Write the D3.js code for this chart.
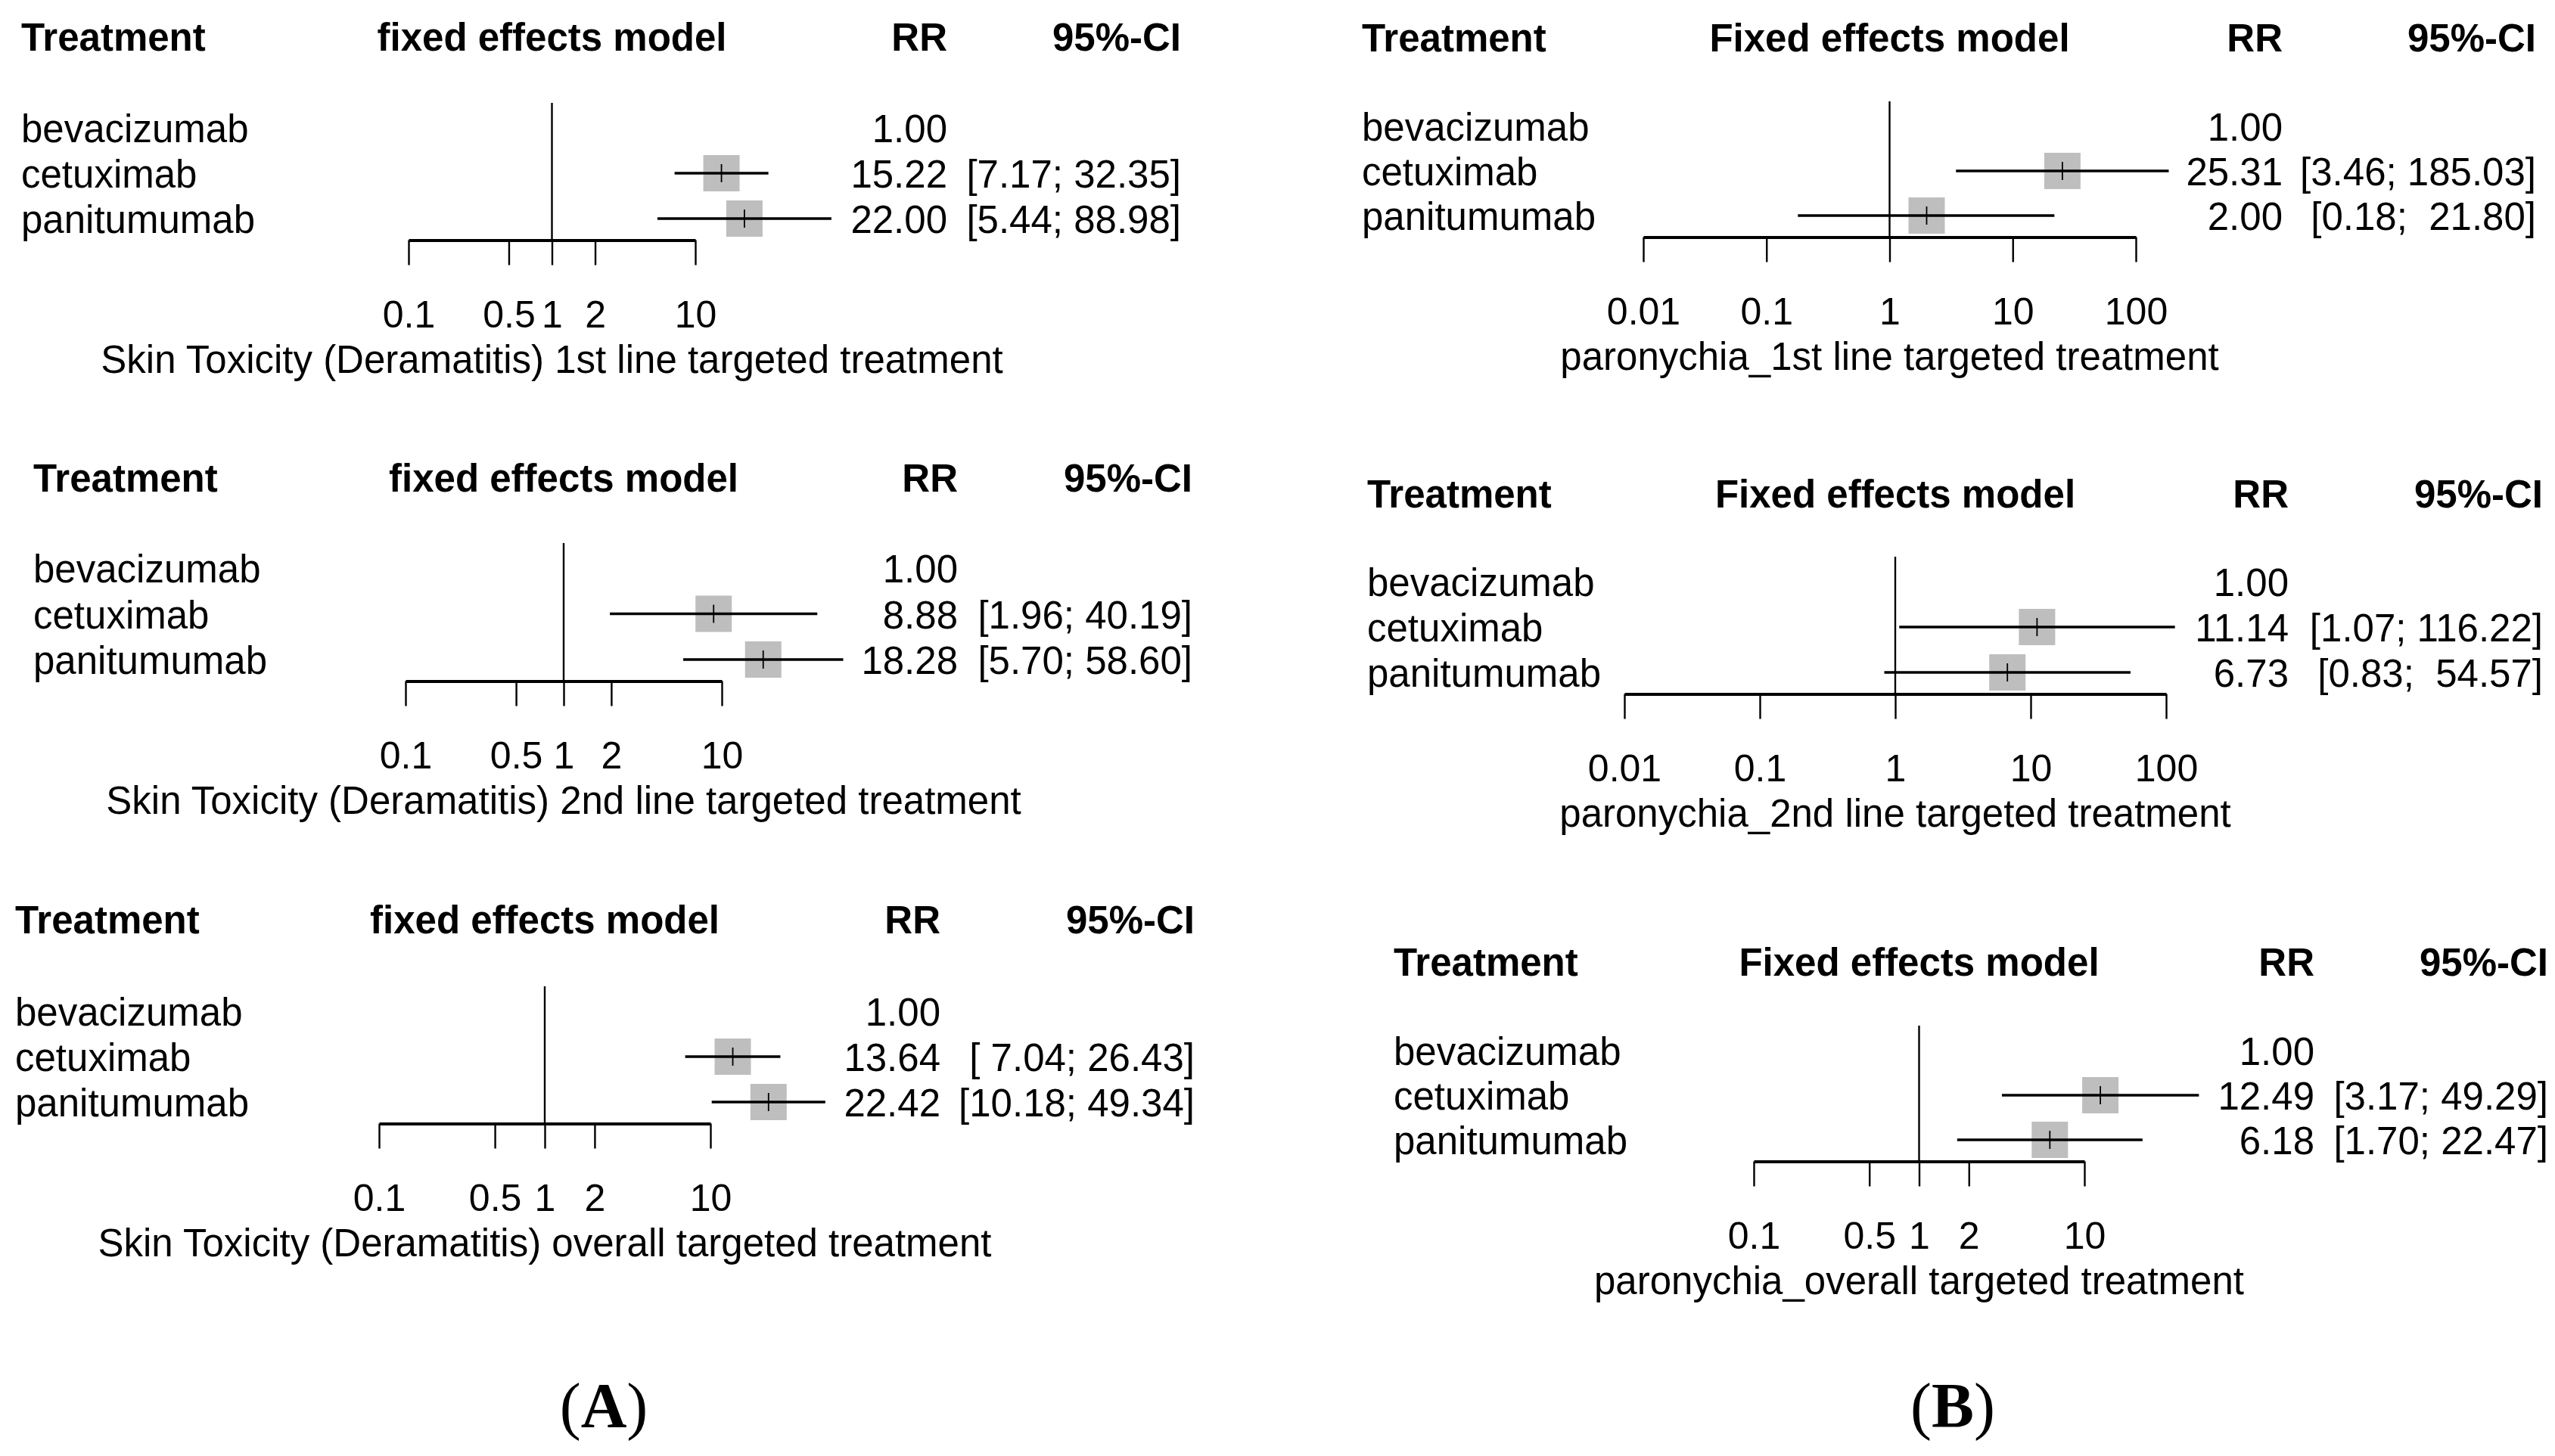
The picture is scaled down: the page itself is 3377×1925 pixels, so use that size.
<!DOCTYPE html>
<html>
<head>
<meta charset="utf-8">
<script src="https://cdn.jsdelivr.net/npm/d3@7"></script>
<style>
  body { margin: 0; background: #fff; }
  text { font-family: "Liberation Sans", Arial, sans-serif; fill: #000; }
  .pre { white-space: pre; }
</style>
</head>
<body>
<div id="chart"></div>
<script>
// ---------- données ----------
const treatments = ["bevacizumab", "cetuximab", "panitumumab"];

const xlabels = [
  "Skin Toxicity (Deramatitis) 1st line targeted treatment",
  "Skin Toxicity (Deramatitis) 2nd line targeted treatment",
  "Skin Toxicity (Deramatitis) overall targeted treatment",
  "paronychia_1st line targeted treatment",
  "paronychia_2nd line targeted treatment",
  "paronychia_overall targeted treatment"
];
const modelHeaders = [
  "fixed effects model", "fixed effects model", "fixed effects model",
  "Fixed effects model", "Fixed effects model", "Fixed effects model"
];

// RR + IC 95% (bevacizumab = référence, pas d'IC)
const rrSkin1 = [1.00, 15.22, 22.00];
const loSkin1 = [null, 7.17, 5.44];
const upSkin1 = [null, 32.35, 88.98];

const rrSkin2 = [1.00, 8.88, 18.28];
const loSkin2 = [null, 1.96, 5.70];
const upSkin2 = [null, 40.19, 58.60];

const rrSkinAll = [1.00, 13.64, 22.42];
const loSkinAll = [null, 7.04, 10.18];
const upSkinAll = [null, 26.43, 49.34];

const rrParo1 = [1.00, 25.31, 2.00];
const loParo1 = [null, 3.46, 0.18];
const upParo1 = [null, 185.03, 21.80];

const rrParo2 = [1.00, 11.14, 6.73];
const loParo2 = [null, 1.07, 0.83];
const upParo2 = [null, 116.22, 54.57];

const rrParoAll = [1.00, 12.49, 6.18];
const loParoAll = [null, 3.17, 1.70];
const upParoAll = [null, 49.29, 22.47];

// graduations de l'axe (échelle log)
const ticksNarrow = [0.1, 0.5, 1, 2, 10];
const ticksWide = [0.01, 0.1, 1, 10, 100];

const panelLabels = ["A", "B"];

// ---------- mise en page (pixels) ----------
const W = 3377, H = 1925;
const fs = 51;          // taille texte
const fsTick = 50;      // taille graduations
const boxSize = 48;     // carré gris

const panels = [
  { rr: rrSkin1, lo: loSkin1, up: upSkin1, ticks: ticksNarrow, labelX: 28, headerY: 67, rowY0: 169, rowStep: 60, ax0: 540, ax1: 919, rrRight: 1252, ciRight: 1561 },
  { rr: rrSkin2, lo: loSkin2, up: upSkin2, ticks: ticksNarrow, labelX: 44, headerY: 650, rowY0: 751, rowStep: 60.5, ax0: 536, ax1: 954, rrRight: 1266, ciRight: 1576 },
  { rr: rrSkinAll, lo: loSkinAll, up: upSkinAll, ticks: ticksNarrow, labelX: 20, headerY: 1234, rowY0: 1337, rowStep: 60, ax0: 501, ax1: 939, rrRight: 1243, ciRight: 1579 },
  { rr: rrParo1, lo: loParo1, up: upParo1, ticks: ticksWide, labelX: 1800, headerY: 68, rowY0: 167, rowStep: 59, ax0: 2172, ax1: 2823, rrRight: 3017, ciRight: 3352 },
  { rr: rrParo2, lo: loParo2, up: upParo2, ticks: ticksWide, labelX: 1807, headerY: 671, rowY0: 769, rowStep: 60, ax0: 2147, ax1: 2863, rrRight: 3025, ciRight: 3361 },
  { rr: rrParoAll, lo: loParoAll, up: upParoAll, ticks: ticksNarrow, labelX: 1842, headerY: 1290, rowY0: 1389, rowStep: 59, ax0: 2318, ax1: 2755, rrRight: 3059, ciRight: 3368 }
];

const svg = d3.select("#chart").append("svg")
  .attr("width", W)
  .attr("height", H);

const f2 = d3.format(".2f");

function drawPanel(p, idx) {
  const g = svg.append("g");
  const x = d3.scaleLog().domain([p.ticks[0], p.ticks[p.ticks.length - 1]]).range([p.ax0, p.ax1]);
  const rowY = i => p.rowY0 + i * p.rowStep;
  const lastY = rowY(treatments.length - 1);
  const axisY = lastY + 28.5;

  // en-têtes
  const head = g.append("g").style("font-weight", "bold").style("font-size", fs + "px");
  head.append("text").attr("x", p.labelX).attr("y", p.headerY).text("Treatment");
  head.append("text").attr("x", x(1)).attr("y", p.headerY).attr("text-anchor", "middle").text(modelHeaders[idx]);
  head.append("text").attr("x", p.rrRight).attr("y", p.headerY).attr("text-anchor", "end").text("RR");
  head.append("text").attr("x", p.ciRight).attr("y", p.headerY).attr("text-anchor", "end").text("95%-CI");

  // largeur des bornes pour l'alignement façon meta
  const loW = d3.max(p.lo.filter(v => v != null), v => f2(v).length);
  const upW = d3.max(p.up.filter(v => v != null), v => f2(v).length);

  const rows = g.selectAll(".row").data(treatments).enter().append("g").attr("class", "row");

  rows.append("text")
    .attr("x", p.labelX).attr("y", (d, i) => rowY(i) + 19)
    .style("font-size", fs + "px")
    .text(d => d);

  rows.append("text")
    .attr("x", p.rrRight).attr("y", (d, i) => rowY(i) + 19)
    .attr("text-anchor", "end")
    .style("font-size", fs + "px")
    .text((d, i) => f2(p.rr[i]));

  rows.append("text")
    .attr("class", "pre")
    .attr("x", p.ciRight).attr("y", (d, i) => rowY(i) + 19)
    .attr("text-anchor", "end")
    .style("font-size", fs + "px")
    .text((d, i) => p.lo[i] == null ? "" :
      "[" + f2(p.lo[i]).padStart(loW, " ") + "; " + f2(p.up[i]).padStart(upW, " ") + "]");

  // carrés + IC (sauf référence)
  const est = rows.filter((d, i) => p.lo[i] != null);
  est.append("rect")
    .attr("x", d => x(p.rr[treatments.indexOf(d)]) - boxSize / 2)
    .attr("y", d => rowY(treatments.indexOf(d)) - boxSize / 2)
    .attr("width", boxSize).attr("height", boxSize)
    .attr("fill", "#bebebe");
  est.append("line")
    .attr("x1", d => x(p.lo[treatments.indexOf(d)]))
    .attr("x2", d => x(p.up[treatments.indexOf(d)]))
    .attr("y1", d => rowY(treatments.indexOf(d)))
    .attr("y2", d => rowY(treatments.indexOf(d)))
    .attr("stroke", "#000").attr("stroke-width", 3.4);
  est.append("line")
    .attr("x1", d => x(p.rr[treatments.indexOf(d)]))
    .attr("x2", d => x(p.rr[treatments.indexOf(d)]))
    .attr("y1", d => rowY(treatments.indexOf(d)) - 12)
    .attr("y2", d => rowY(treatments.indexOf(d)) + 12)
    .attr("stroke", "#000").attr("stroke-width", 1.8);

  // ligne de référence RR = 1
  g.append("line")
    .attr("x1", x(1)).attr("x2", x(1))
    .attr("y1", p.rowY0 - 33).attr("y2", axisY)
    .attr("stroke", "#000").attr("stroke-width", 2.4);

  // axe
  const axis = g.append("g")
    .attr("transform", `translate(0,${axisY})`)
    .call(d3.axisBottom(x).tickValues(p.ticks).tickSize(33).tickSizeOuter(0).tickPadding(47)
      .tickFormat(d => String(d)));
  axis.select(".domain").attr("stroke-width", 4);
  axis.selectAll(".tick line").attr("stroke-width", 2.4);
  axis.selectAll(".tick text")
    .style("font-family", "'Liberation Sans', Arial, sans-serif")
    .style("font-size", fsTick + "px");

  g.append("text")
    .attr("x", x(1)).attr("y", axisY + 175)
    .attr("text-anchor", "middle")
    .style("font-size", fs + "px")
    .text(xlabels[idx]);
}

panels.forEach(drawPanel);

// étiquettes (A) et (B)
const labX = [798, 2581];
panelLabels.forEach((l, i) => {
  const t = svg.append("text")
    .attr("x", labX[i]).attr("y", 1887)
    .attr("text-anchor", "middle")
    .style("font-family", "'Liberation Serif', 'Times New Roman', serif")
    .style("font-size", "84px");
  t.append("tspan").text("(");
  t.append("tspan").style("font-weight", "bold").text(l);
  t.append("tspan").text(")");
});
</script>
</body>
</html>
